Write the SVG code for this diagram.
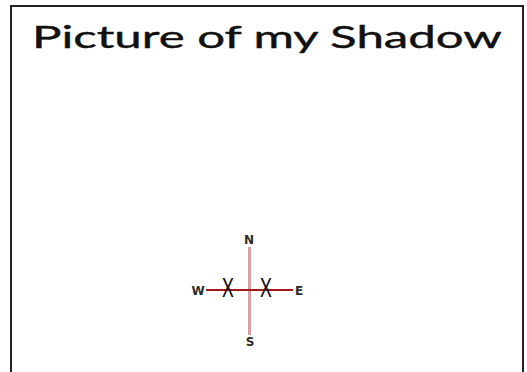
<svg xmlns="http://www.w3.org/2000/svg" width="527" height="372" viewBox="0 0 527 372">
  <style>
    .dir { font-family: "DejaVu Sans", "Liberation Sans", sans-serif; font-weight: bold; font-size: 12px; fill: #2a2a2a; text-anchor: middle; dominant-baseline: central; }
    .x { font-family: "Lato", "Noto Sans", sans-serif; font-size: 27px; fill: #111; text-anchor: middle; }
  </style>
  <rect width="527" height="372" fill="#fff"/>
  <g id="frame">
    <path d="M11 380 V6 H523 V380" fill="none" stroke="#222" stroke-width="2"/>
  </g>
  <g id="title">
    <text x="32" y="48" font-family="Lato, 'Noto Sans', sans-serif" font-size="30" fill="#111" stroke="#111" stroke-width="0.4" textLength="470" lengthAdjust="spacingAndGlyphs">Picture of my Shadow</text>
  </g>
  <g id="connectors">
    <line x1="249.5" y1="247" x2="249.5" y2="335" stroke="#d9a0a5" stroke-width="3"/>
    <line x1="206" y1="290" x2="293" y2="290" stroke="#a01818" stroke-width="2"/>
  </g>
  <g id="north"><text class="dir" x="249" y="240">N</text></g>
  <g id="south"><text class="dir" x="250" y="342">S</text></g>
  <g id="west"><text class="dir" x="198" y="291">W</text></g>
  <g id="east"><text class="dir" x="299" y="291">E</text></g>
  <g id="x1"><text class="x" transform="translate(228 297) scale(0.65 1)">X</text></g>
  <g id="x2"><text class="x" transform="translate(266 297) scale(0.65 1)">X</text></g>
</svg>
